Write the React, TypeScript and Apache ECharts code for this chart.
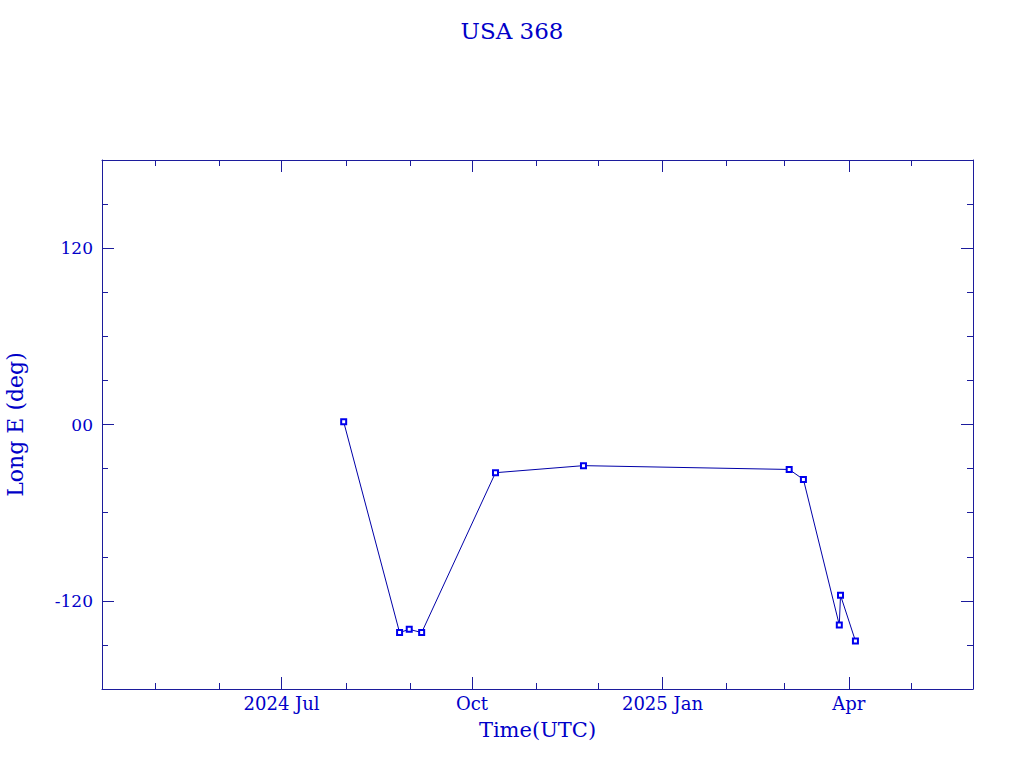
import React, { useEffect, useRef } from "react";
import * as echarts from "echarts";

const title = "USA 368";
const xName = "Time(UTC)";
const yName = "Long E (deg)";

const dates = [
  "2024-07-31T00:00:00Z",
  "2024-08-27T00:00:00Z",
  "2024-08-31T16:00:00Z",
  "2024-09-06T16:00:00Z",
  "2024-10-12T08:00:00Z",
  "2024-11-23T20:00:00Z",
  "2025-03-03T05:00:00Z",
  "2025-03-10T02:00:00Z",
  "2025-03-27T10:00:00Z",
  "2025-03-28T00:00:00Z",
  "2025-04-04T05:00:00Z",
];
const longitudes = [1.8, -141.6, -139.4, -141.6, -32.8, -28.0, -30.6, -37.4, -136.4, -116.2, -147.3];

const xMin = "2024-04-05T06:00:00Z";
const xMax = "2025-05-31T00:00:00Z";
const xMajorTicks = ["2024-07-01T00:00:00Z", "2024-10-01T00:00:00Z", "2025-01-01T00:00:00Z", "2025-04-01T00:00:00Z"];
const xMajorLabels = ["2024 Jul", "Oct", "2025 Jan", "Apr"];
const xMinorTicks = [
  "2024-05-01T00:00:00Z", "2024-06-01T00:00:00Z", "2024-08-01T00:00:00Z", "2024-09-01T00:00:00Z",
  "2024-11-01T00:00:00Z", "2024-12-01T00:00:00Z", "2025-02-01T00:00:00Z", "2025-03-01T00:00:00Z",
  "2025-05-01T00:00:00Z",
];

const yMin = -180;
const yMax = 180;
const yMajorTicks = [-120, 0, 120];
const yMajorLabels = ["-120", "00", "120"];
const yMinorTicks = [-150, -90, -60, -30, 30, 60, 90, 150];

const FONT = "DejaVu Serif";
const TEXT = "#0000c8";
const AXIS = "#1c1c9c";

const ts = (d: string) => new Date(d).getTime();

export default function App() {
  const ref = useRef<HTMLDivElement>(null);
  useEffect(() => {
    if (!ref.current) return;
    const chart = echarts.init(ref.current, null, { renderer: "svg" });
    const majorTs = xMajorTicks.map(ts);
    const minorTs = xMinorTicks.map(ts);
    const xFmt = (v: number) => {
      const i = majorTs.findIndex((t) => Math.abs(t - v) < 3600000);
      return i >= 0 ? xMajorLabels[i] : "";
    };
    const yFmt = (v: number) => {
      const i = yMajorTicks.indexOf(v);
      return i >= 0 ? yMajorLabels[i] : "";
    };
    const xBase = (pos: string, ticks: number[], len: number, showLine: boolean) => ({
      type: "value",
      position: pos,
      gridIndex: 0,
      min: ts(xMin),
      max: ts(xMax),
      axisLine: { show: showLine, onZero: false, lineStyle: { color: AXIS, width: 1 } },
      axisTick: { show: true, inside: true, length: len, customValues: ticks, lineStyle: { color: AXIS, width: 1 } },
      axisLabel: { show: false },
      splitLine: { show: false },
    });
    const yBase = (pos: string, ticks: number[], len: number, showLine: boolean) => ({
      type: "value",
      position: pos,
      gridIndex: 0,
      min: yMin,
      max: yMax,
      axisLine: { show: showLine, onZero: false, lineStyle: { color: AXIS, width: 1 } },
      axisTick: { show: true, inside: true, length: len, customValues: ticks, lineStyle: { color: AXIS, width: 1 } },
      axisLabel: { show: false },
      splitLine: { show: false },
    });
    const x0: any = xBase("bottom", majorTs, 12, true);
    x0.axisLabel = {
      show: true,
      customValues: majorTs,
      formatter: xFmt,
      color: TEXT,
      fontFamily: FONT,
      fontSize: 18,
      margin: 5,
      hideOverlap: false,
    };
    x0.name = xName;
    x0.nameLocation = "middle";
    x0.nameGap = 30;
    x0.nameTextStyle = { color: TEXT, fontFamily: FONT, fontSize: 21 };
    const y0: any = yBase("left", yMajorTicks, 12, true);
    y0.axisLabel = {
      show: true,
      customValues: yMajorTicks,
      formatter: yFmt,
      color: TEXT,
      fontFamily: FONT,
      fontSize: 17,
      margin: 9,
    };
    y0.name = yName;
    y0.nameLocation = "middle";
    y0.nameGap = 76;
    y0.nameTextStyle = { color: TEXT, fontFamily: FONT, fontSize: 22 };

    chart.setOption({
      animation: false,
      backgroundColor: "#ffffff",
      title: {
        text: title,
        left: "center",
        top: 14,
        textStyle: { color: TEXT, fontFamily: FONT, fontSize: 23, fontWeight: "normal" },
      },
      grid: { left: 102, top: 160, width: 871, height: 529, containLabel: false, outerBoundsMode: "none" },
      xAxis: [
        x0,
        xBase("bottom", minorTs, 6, false),
        xBase("top", majorTs, 12, true),
        xBase("top", minorTs, 6, false),
      ],
      yAxis: [
        y0,
        yBase("left", yMinorTicks, 6, false),
        yBase("right", yMajorTicks, 12, true),
        yBase("right", yMinorTicks, 6, false),
      ],
      series: [
        {
          type: "line",
          xAxisIndex: 0,
          yAxisIndex: 0,
          data: dates.map((d, i) => [ts(d), longitudes[i]]),
          symbol: "rect",
          symbolSize: 5,
          showSymbol: true,
          lineStyle: { color: "#0000a8", width: 1 },
          itemStyle: { color: "#ffffff", borderColor: "#0000ee", borderWidth: 2 },
        },
      ],
    });
    return () => chart.dispose();
  }, []);
  return (
    <div
      ref={ref}
      style={{ position: "absolute", left: 0, top: 0, width: 1024, height: 768, background: "#fff" }}
    />
  );
}
